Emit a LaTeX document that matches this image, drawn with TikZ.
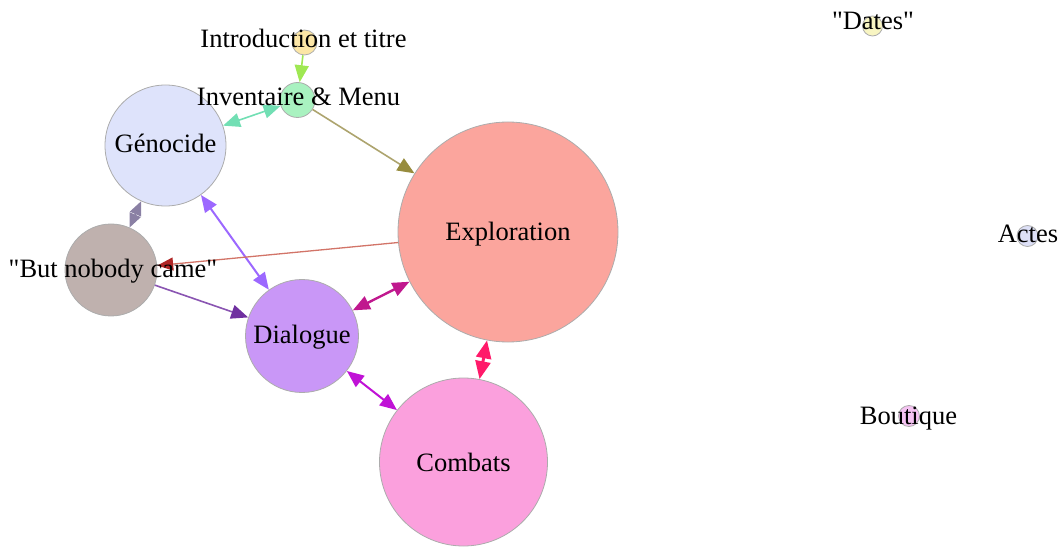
\documentclass[tikz,border=0pt]{standalone}
\usepackage{fontspec}
\setmainfont{Liberation Serif}[Ligatures=TeXReset]
\usetikzlibrary{arrows.meta}

% node colours
\definecolor{introfill}{HTML}{FCE6A6}
\definecolor{invfill}{HTML}{A9F2C0}
\definecolor{genofill}{HTML}{DEE3FB}
\definecolor{nobodyfill}{HTML}{BFB1AE}
\definecolor{dialfill}{HTML}{C997F7}
\definecolor{explfill}{HTML}{FBA59D}
\definecolor{combfill}{HTML}{FBA0DD}
\definecolor{datesfill}{HTML}{F8F5C2}
\definecolor{actesfill}{HTML}{DDE0F7}
\definecolor{boutfill}{HTML}{F5C3F2}
% edge colours
\definecolor{introinv}{HTML}{9FE853}
\definecolor{invgeno}{HTML}{72DFB4}
\definecolor{invexpl}{HTML}{ADA46E}
\definecolor{invexplhead}{HTML}{978C3E}
\definecolor{genonobody}{HTML}{8A80A4}
\definecolor{genodial}{HTML}{9C68FF}
\definecolor{explnobody}{HTML}{D27468}
\definecolor{explnobodyhead}{HTML}{B02626}
\definecolor{nobodydial}{HTML}{8A55B2}
\definecolor{nobodydialhead}{HTML}{7030A0}
\definecolor{dialexpl}{HTML}{C0188E}
\definecolor{dialcomb}{HTML}{C012D6}
\definecolor{explcomb}{HTML}{FF1A6A}

\begin{document}
\begin{tikzpicture}[x=1pt, y=-1pt,
    vertex/.style={circle, draw=gray!65, line width=0.8pt, inner sep=0pt},
    lbl/.style={inner sep=0pt, anchor=base, font=\fontsize{26.5}{30}\selectfont},
    link/.style={line width=1.6pt},
    >={Triangle[length=17pt, width=14pt]}]
    \useasboundingbox (0,0) rectangle (1061,548);

    % Scenes (circles)
    \node[vertex, fill=introfill, minimum size=25pt] (intro) at (304.5,42.5) {};
    \node[vertex, fill=invfill, minimum size=35pt] (inventaire) at (297.5,100) {};
    \node[vertex, fill=genofill, minimum size=121pt] (genocide) at (165.5,145.5) {};
    \node[vertex, fill=nobodyfill, minimum size=92pt] (nobody) at (111,270) {};
    \node[vertex, fill=dialfill, minimum size=113pt] (dialogue) at (302,336) {};
    \node[vertex, fill=explfill, minimum size=220pt] (exploration) at (508,232) {};
    \node[vertex, fill=combfill, minimum size=168pt] (combats) at (463.5,462) {};

    % Isolated scenes
    \node[vertex, fill=datesfill, minimum size=20pt] (dates) at (872.5,26) {};
    \node[vertex, fill=actesfill, minimum size=21pt] (actes) at (1027.5,236) {};
    \node[vertex, fill=boutfill, minimum size=21pt] (boutique) at (909,416) {};

    % Links
    \draw[link, ->, introinv] (intro) -- (inventaire);
    \draw[link, <->, invgeno] (inventaire) -- (genocide);
    \draw[link, invexpl, -{Triangle[length=17pt, width=14pt, color=invexplhead]}] (inventaire) -- (exploration);
    \draw[link, line width=1.2pt, genonobody, {Triangle[length=14pt, width=12pt]}-{Triangle[length=14pt, width=12pt]}] (genocide) -- (nobody);
    \draw[link, line width=2pt, <->, genodial] (genocide) -- (dialogue);
    \draw[link, line width=1.3pt, explnobody, -{Triangle[length=16pt, width=13pt, color=explnobodyhead]}] (exploration) -- (nobody);
    \draw[link, nobodydial, -{Triangle[length=17pt, width=14pt, color=nobodydialhead]}] (nobody) -- (dialogue);
    \draw[link, line width=2.4pt, <->, dialexpl] (dialogue) -- (exploration);
    \draw[link, line width=2pt, <->, dialcomb] (dialogue) -- (combats);
    \draw[link, line width=3pt, explcomb, {Triangle[length=18pt, width=15pt]}-{Triangle[length=18pt, width=15pt]}] (exploration) -- (combats);

    % Labels
    \node[lbl] (intro-txt) at (303.5,48) {Introduction et titre};
    \node[lbl] (inventaire-txt) at (298.5,106) {Inventaire \& Menu};
    \node[lbl] (genocide-txt) at (165.5,153) {Génocide};
    \node[lbl] (nobody-txt) at (113,278) {"But nobody came"};
    \node[lbl] (dialogue-txt) at (302,344) {Dialogue};
    \node[lbl] (exploration-txt) at (508,241) {Exploration};
    \node[lbl] (combats-txt) at (463.5,471) {Combats};
    \node[lbl] (dates-txt) at (873,30) {"Dates"};
    \node[lbl] (actes-txt) at (1028,243) {Actes};
    \node[lbl] (boutique-txt) at (908.5,424) {Boutique};
\end{tikzpicture}
\end{document}
